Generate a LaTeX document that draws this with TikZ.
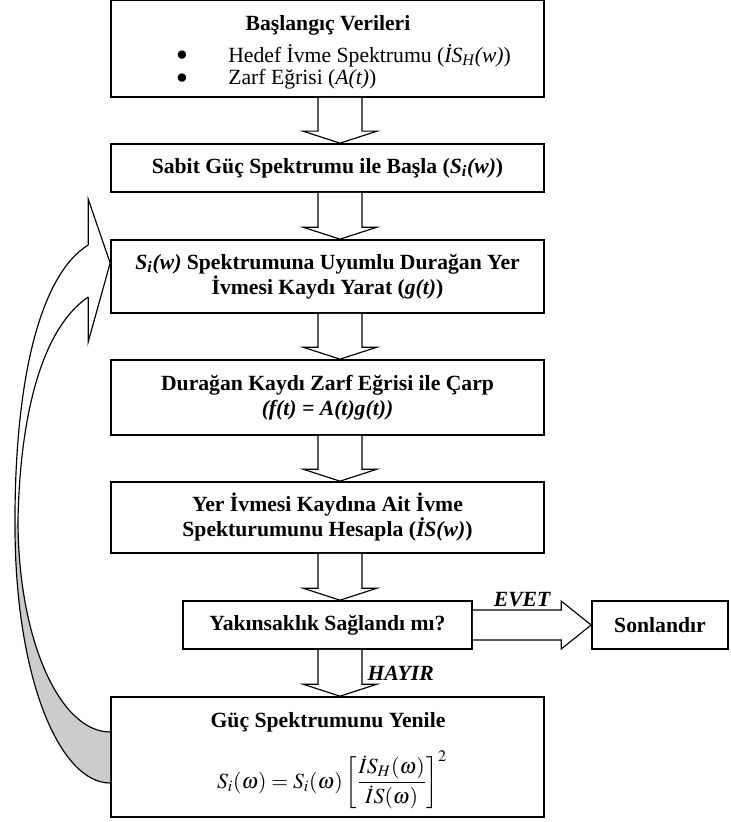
\documentclass[tikz,border=0pt]{standalone}
\usepackage{mathptmx}
\usepackage{fontspec}
\setmainfont{Liberation Serif}
\usepackage{tikz}
\usetikzlibrary{calc,positioning}
\tikzset{%
	process/.style    = {draw, rectangle, line width=1pt, minimum width=259.8pt, text centered, align=center, inner sep=2pt, font=\fontsize{13}{15}\selectfont\bfseries},
	plain/.style      = {inner sep=0pt, font=\fontsize{13}{15}\selectfont},
	answer/.style     = {inner sep=1pt, font=\fontsize{13}{15}\selectfont\bfseries\itshape},
	blockarrow/.style = {draw, line width=0.7pt, fill=white, line join=miter},
	loopband/.style   = {draw, line width=0.7pt, line join=miter},
}
\newcommand{\downblock}[2]{%
	\draw[blockarrow] ($(#1.south)+(-9.5,0)$) -- ($(#2.north)+(-9.5,-12)$) -- ($(#2.north)+(-24.5,-12)$) -- ($(#2.north)+(12.5,0)$) -- ($(#2.north)+(49.5,-12)$) -- ($(#2.north)+(34.5,-12)$) -- ($(#1.south)+(34.5,0)$);}

\begin{document}
\begin{tikzpicture}[x=0.6pt, y=-0.6pt]
	\useasboundingbox (0,0) rectangle (730,822);
	
	\node[process, minimum height=57.9pt] (init) at (327.5,48.75) {};
	\node[plain, font=\fontsize{13}{15}\selectfont\bfseries] (inittitle) at (328,25) {Başlangıç Verileri};
	\node[plain] (dotA) at (182,56) {$\bullet$};
	\node[plain, anchor=west] (itemA) at (228,56) {Hedef İvme Spektrumu (\textit{İS\textsubscript{H}(w)})};
	\node[plain] (dotB) at (182,79) {$\bullet$};
	\node[plain, anchor=west] (itemB) at (228,79) {Zarf Eğrisi (\textit{A(t)})};
	
	\node[process, minimum height=28.8pt] (const) at (327.5,168) {Sabit Güç Spektrumu ile Başla (\textit{S\textsubscript{i}(w)})};
	\node[process, minimum height=43.8pt] (gen) at (327.5,276.5) {\textit{S\textsubscript{i}(w)} Spektrumuna Uyumlu Durağan Yer\\ İvmesi Kaydı Yarat (\textit{g(t)})};
	\node[process, minimum height=45pt] (mult) at (327.5,397.5) {Durağan Kaydı Zarf Eğrisi ile Çarp\\ \textit{(f(t) = A(t)g(t))}};
	\node[process, minimum height=42.6pt] (calc) at (327.5,517.5) {Yer İvmesi Kaydına Ait İvme\\ Spekturumunu Hesapla (\textit{İS(w)})};
	\node[process, minimum width=173.4pt, minimum height=28.8pt] (conv) at (327.5,625) {Yakınsaklık Sağlandı mı?};
	\node[process, minimum width=81.6pt, minimum height=28.8pt] (stop) at (660,625) {Sonlandır};
	\node[process, minimum height=72pt] (upd) at (327.5,757) {};
	\node[plain, font=\fontsize{13}{15}\selectfont\bfseries] (updtitle) at (328,722) {Güç Spektrumunu Yenile};
	\node[plain] (updformula) at (332,780) {$\displaystyle S_i(\omega) = S_i(\omega)\left[\frac{\dot{I}S_H(\omega)}{\dot{I}S(\omega)}\right]^2$};
	
	\downblock{init}{const}
	\downblock{const}{gen}
	\downblock{gen}{mult}
	\downblock{mult}{calc}
	\downblock{calc}{conv}
	\downblock{conv}{upd}
	
	\draw[blockarrow] ($(conv.east)+(0,-15)$) -- ($(stop.west)+(-30,-15)$) -- ($(stop.west)+(-30,-24)$) -- (stop.west) -- ($(stop.west)+(-30,24)$) -- ($(stop.west)+(-30,15)$) -- ($(conv.east)+(0,15)$);
	\node[answer, anchor=south west] (yes) at ($(conv.east)+(19,-16)$) {EVET};
	\node[answer, anchor=west] (no) at ($(conv.south)+(38,24)$) {HAYIR};
	
	\coordinate (tip) at ($(gen.west)+(0,-13.5)$);
	\coordinate (headtop) at ($(gen.west)+(-22,-77.5)$);
	\coordinate (headbot) at ($(gen.west)+(-22,65.5)$);
	\coordinate (shup) at ($(gen.west)+(-22,-31.5)$);
	\coordinate (shlo) at ($(gen.west)+(-22,20.5)$);
	\coordinate (tailup) at ($(upd.west)+(0,-25)$);
	\coordinate (taillo) at ($(upd.west)+(0,26)$);
	\fill[black!20] (15,530) .. controls (16,680) and (60,783) .. (taillo) -- (tailup) .. controls (60,732) and (18,640) .. (18,520) -- cycle;
	\draw[loopband] (shup) .. controls (40,275) and (14,380) .. (15,530) .. controls (16,680) and (60,783) .. (taillo);
	\draw[loopband] (shlo) .. controls (40,330) and (20,420) .. (18,520) .. controls (18,640) and (60,732) .. (tailup);
	\draw[loopband] (shup) -- (headtop) -- (tip) -- (headbot) -- (shlo);
\end{tikzpicture}
\end{document}
